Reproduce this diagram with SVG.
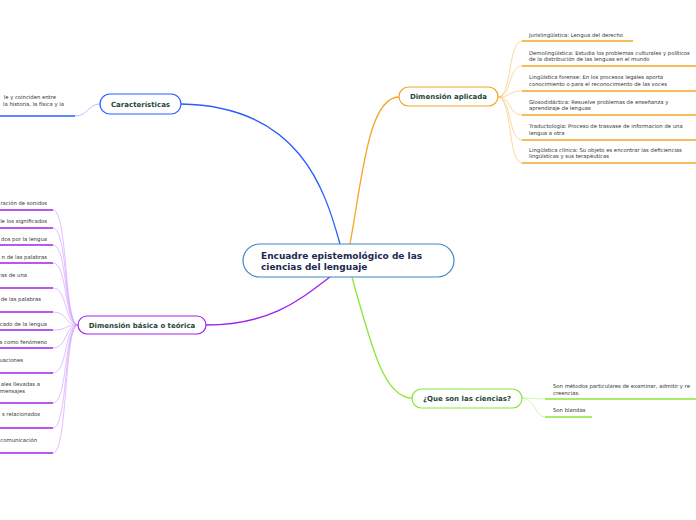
<svg xmlns="http://www.w3.org/2000/svg" width="696" height="520" viewBox="0 0 696 520">
<style>
.t{font-family:"DejaVu Sans",Verdana,sans-serif;font-size:5.3px;fill:#333}
.n{font-family:"DejaVu Sans",Verdana,sans-serif;font-size:7px;font-weight:bold;fill:#1d4a3a;text-anchor:middle}
.c{font-family:"DejaVu Sans",Verdana,sans-serif;font-size:9px;font-weight:bold;fill:#1b2a4e}
.box{fill:#fff;stroke-width:1.2}
.cn{fill:none}
.e{text-anchor:end}
</style>
<rect width="696" height="520" fill="#fff"/>
<g id="connectors">
  <path class="cn" d="M340,244 C325,190 300,106 181,104" stroke="#2a5cff" stroke-width="1.3"/>
  <path class="cn" d="M350,244 C362,180 368,97 399,97" stroke="#f5a623" stroke-width="1.3"/>
  <path class="cn" d="M330,277 C300,300 270,325 206,325" stroke="#a020f0" stroke-width="1.3"/>
  <path class="cn" d="M352,277 C372,350 385,398 412,398" stroke="#8ce63a" stroke-width="1.3"/>
  <g stroke="#2a5cff">
    <path class="cn" d="M100,104 C88,104 88,116 75,116" stroke-width="0.6" opacity="0.6"/>
    <path class="cn" d="M0,116 H75" stroke-width="1.6"/>
  </g>
  <g stroke="#f5a623" fill="none">
    <g stroke-width="0.6" opacity="0.7">
      <path d="M498,97 C512,97 508,41 522,41"/>
      <path d="M498,97 C512,97 508,66 522,66"/>
      <path d="M498,97 C512,97 508,91 522,91"/>
      <path d="M498,97 C512,97 508,115 522,115"/>
      <path d="M498,97 C512,97 508,140 522,140"/>
      <path d="M498,97 C512,97 508,163 522,163"/>
    </g>
    <g stroke-width="1.6">
      <path d="M522,41 H633"/>
      <path d="M522,66 H696"/>
      <path d="M522,91 H696"/>
      <path d="M522,115 H696"/>
      <path d="M522,140 H696"/>
      <path d="M522,163 H696"/>
    </g>
  </g>
  <g stroke="#a020f0" fill="none">
    <g stroke-width="0.6" opacity="0.6" stroke="#b050ff">
      <path d="M78,325 C64,325 68,210 53,210"/>
      <path d="M78,325 C64,325 68,228 53,228"/>
      <path d="M78,325 C64,325 68,245 53,245"/>
      <path d="M78,325 C64,325 68,263 53,263"/>
      <path d="M78,325 C64,325 68,288 53,288"/>
      <path d="M78,325 C64,325 68,312 53,312"/>
      <path d="M78,325 C64,325 68,330 53,330"/>
      <path d="M78,325 C64,325 68,348 53,348"/>
      <path d="M78,325 C64,325 68,373 53,373"/>
      <path d="M78,325 C64,325 68,403 53,403"/>
      <path d="M78,325 C64,325 68,428 53,428"/>
      <path d="M78,325 C64,325 68,453 53,453"/>
    </g>
    <g stroke-width="1.6">
      <path d="M0,210 H53"/>
      <path d="M0,228 H53"/>
      <path d="M0,245 H53"/>
      <path d="M0,263 H53"/>
      <path d="M0,288 H53"/>
      <path d="M0,312 H53"/>
      <path d="M0,330 H53"/>
      <path d="M0,348 H53"/>
      <path d="M0,373 H53"/>
      <path d="M0,403 H53"/>
      <path d="M0,428 H53"/>
      <path d="M0,453 H53"/>
    </g>
  </g>
  <g stroke="#8ce63a" fill="none">
    <path d="M522,398 C535,398 535,399 545,399" stroke-width="0.6" opacity="0.7"/>
    <path d="M522,398 C535,398 535,417 545,417" stroke-width="0.6" opacity="0.7"/>
    <path d="M545,399 H696" stroke-width="1.6"/>
    <path d="M545,417 H592" stroke-width="1.6"/>
  </g>
</g>
<g id="central">
  <rect class="box" x="243" y="244" width="211" height="33" rx="16.5" stroke="#3f86c4"/>
  <text class="c" x="261" y="259">Encuadre epistemológico de las</text>
  <text class="c" x="261" y="270">ciencias del lenguaje</text>
</g>
<g id="caracteristicas">
  <rect class="box" x="100" y="94" width="81" height="20" rx="10" stroke="#2a5cff"/>
  <text class="n" x="140.5" y="106.5">Características</text>
</g>
<g id="caracteristicas-items">
  <text class="t e" x="56" y="99">le y coinciden entre</text>
  <text class="t e" x="64" y="106">la historia, la física y la</text>
</g>
<g id="aplicada">
  <rect class="box" x="399" y="87" width="99" height="19" rx="9.5" stroke="#f5a623"/>
  <text class="n" x="448.5" y="99">Dimensión aplicada</text>
</g>
<g id="aplicada-items">
  <text class="t" x="529" y="37">Jurislingüística: Lengua del derecho</text>
  <text class="t" x="529" y="55">Demolingüística: Estudia los problemas culturales y políticos</text>
  <text class="t" x="529" y="61">de la distribución de las lenguas en el mundo</text>
  <text class="t" x="529" y="79">Lingüística forense: En los procesos legales aporta</text>
  <text class="t" x="529" y="86">conocimiento o para el reconocimiento de las voces</text>
  <text class="t" x="529" y="104">Glosodidáctica: Resuelve problemas de enseñanza y</text>
  <text class="t" x="529" y="110">aprendizaje de lenguas</text>
  <text class="t" x="529" y="128">Traductología: Proceso de trasvase de informacion de una</text>
  <text class="t" x="529" y="135">lengua a otra</text>
  <text class="t" x="529" y="152">Lingüística clínica: Su objeto es encontrar las deficiencias</text>
  <text class="t" x="529" y="158">lingüísticas y sus terapéuticas</text>
</g>
<g id="basica">
  <rect class="box" x="78" y="316" width="128" height="18" rx="9" stroke="#a020f0"/>
  <text class="n" x="142" y="327.5">Dimensión básica o teórica</text>
</g>
<g id="basica-items">
  <text class="t e" x="47" y="205">ración de sonidos</text>
  <text class="t e" x="47" y="223">le los significados</text>
  <text class="t e" x="47" y="241">dos por la lengua</text>
  <text class="t e" x="47" y="259">n de las palabras</text>
  <text class="t e" x="27" y="277">ras de una</text>
  <text class="t e" x="41" y="301">de las palabras</text>
  <text class="t e" x="47" y="326">cado de la lengua</text>
  <text class="t e" x="47" y="344">a como fenómeno</text>
  <text class="t e" x="23" y="362">uaciones</text>
  <text class="t e" x="40" y="386">ales llevadas a</text>
  <text class="t e" x="25" y="393">mensajes</text>
  <text class="t e" x="40" y="416">s relacionados</text>
  <text class="t e" x="37" y="442">comunicación</text>
</g>
<g id="ciencias">
  <rect class="box" x="412" y="389" width="110" height="19" rx="9.5" stroke="#8ce63a"/>
  <text class="n" x="467" y="401">¿Que son las ciencias?</text>
</g>
<g id="ciencias-items">
  <text class="t" x="553" y="388">Son métodos particulares de examinar, admitir y re</text>
  <text class="t" x="553" y="395">creencias.</text>
  <text class="t" x="553" y="412">Son blandas</text>
</g>
</svg>
